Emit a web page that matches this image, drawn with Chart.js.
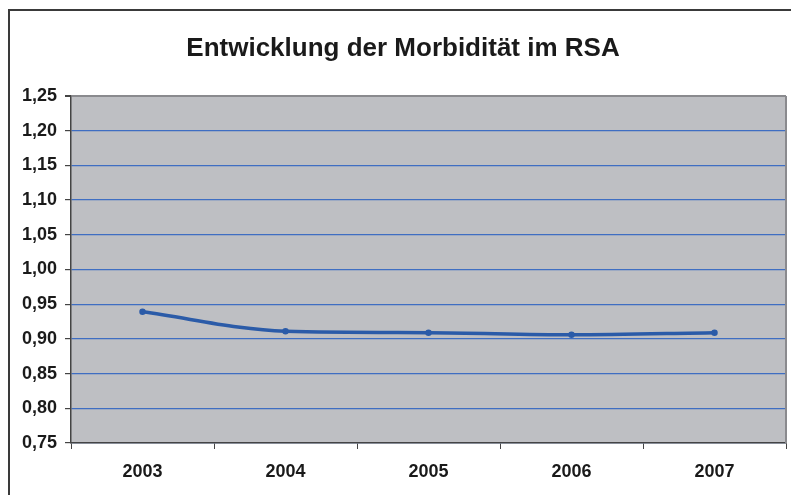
<!DOCTYPE html>
<html>
<head>
<meta charset="utf-8">
<script src="https://cdn.jsdelivr.net/npm/chart.js@4"></script>
<style>
  html, body { margin: 0; padding: 0; background: #fff; overflow: hidden; }
  #frame { position: absolute; left: 8px; top: 9px; width: 810px; height: 520px; border: 2px solid #3a3a3a; box-sizing: border-box; }
  #wrap { position: absolute; left: 0; top: 0; width: 791px; height: 495px; }
</style>
</head>
<body>
<div id="frame"></div>
<div id="wrap"><canvas id="c" width="791" height="495"></canvas></div>
<script>
const chartTitle = 'Entwicklung der Morbidität im RSA';
const categories = ['2003', '2004', '2005', '2006', '2007'];
const morbidity = [0.939, 0.911, 0.909, 0.906, 0.909];
const yTickValues = [0.75, 0.80, 0.85, 0.90, 0.95, 1.00, 1.05, 1.10, 1.15, 1.20, 1.25];

const bgPlugin = {
  id: 'bg',
  beforeDraw(chart) {
    const { ctx, chartArea: a } = chart;
    ctx.save();
    ctx.fillStyle = '#bebfc3';
    ctx.fillRect(a.left, a.top, a.right - a.left, a.bottom - a.top);
    ctx.restore();
  },
  afterDraw(chart) {
    const { ctx, chartArea: a } = chart;
    ctx.save();
    ctx.fillStyle = '#1a1a1a';
    ctx.font = 'bold 26px "Liberation Sans", Arial, sans-serif';
    ctx.textAlign = 'center';
    ctx.textBaseline = 'alphabetic';
    ctx.fillText(chartTitle, 403, 56);
    ctx.strokeStyle = '#8a8a8e';
    ctx.lineWidth = 2;
    ctx.beginPath();
    ctx.moveTo(a.right, a.top);
    ctx.lineTo(a.right, a.bottom);
    ctx.stroke();
    ctx.restore();
  }
};

new Chart(document.getElementById('c'), {
  type: 'line',
  data: {
    labels: categories,
    datasets: [{
      data: morbidity,
      borderColor: '#2b5ba8',
      backgroundColor: '#2b5ba8',
      borderWidth: 3.5,
      pointRadius: 1.5,
      pointHoverRadius: 1.5,
      tension: 0.35,
      cubicInterpolationMode: 'monotone',
      fill: false
    }]
  },
  options: {
    responsive: false,
    animation: false,
    layout: { padding: { top: 96, right: 3, left: 0, bottom: 0 } },
    plugins: { legend: { display: false }, title: { display: false }, tooltip: { enabled: false } },
    scales: {
      x: {
        offset: true,
        grid: { offset: true, drawOnChartArea: false, tickLength: 6, tickColor: '#444', lineWidth: 1 },
        border: { color: '#444', width: 1.5 },
        ticks: { color: '#1a1a1a', font: { family: '"Liberation Sans", Arial, sans-serif', size: 18, weight: 'bold' }, padding: 12 },
        afterFit(scale) { scale.height = 52; }
      },
      y: {
        min: 0.75,
        max: 1.25,
        afterBuildTicks(scale) { scale.ticks = yTickValues.map(v => ({ value: v })); },
        grid: {
          color: ctx => (ctx.tick && Math.abs(ctx.tick.value - 1.25) < 1e-6) ? '#8a8a8e' : '#3f6ec2',
          lineWidth: ctx => (ctx.tick && Math.abs(ctx.tick.value - 1.25) < 1e-6) ? 2 : 1.2,
          tickLength: 6,
          tickColor: '#444'
        },
        border: { color: '#444', width: 1.5 },
        ticks: {
          color: '#1a1a1a',
          font: { family: '"Liberation Sans", Arial, sans-serif', size: 18, weight: 'bold' },
          padding: 8,
          callback: v => v.toFixed(2).replace('.', ',')
        },
        afterFit(scale) { scale.width = 71; }
      }
    }
  },
  plugins: [bgPlugin]
});
</script>
</body>
</html>
